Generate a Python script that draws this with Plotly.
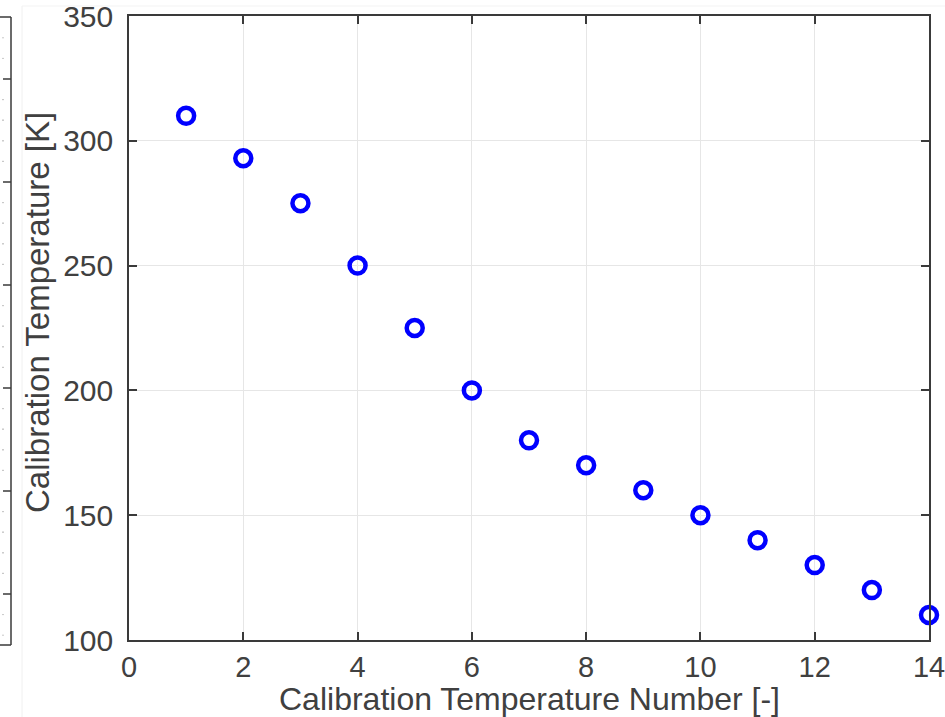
import plotly.graph_objects as go

# data
cal_number = [1, 2, 3, 4, 5, 6, 7, 8, 9, 10, 11, 12, 13, 14]
cal_temp = [310, 293, 275, 250, 225, 200, 180, 170, 160, 150, 140, 130, 120, 110]
x_ticks = [0, 2, 4, 6, 8, 10, 12, 14]
y_ticks = [100, 150, 200, 250, 300, 350]
x_title = "Calibration Temperature Number [-]"
y_title = "Calibration Temperature [K]"

# neighbouring (cropped) panel axis decoration, pixel rows
nb_major = [79, 182, 285, 388, 491, 594]

W, H = 945, 717
L, R, T, B = 129, 16, 16, 77
PW, PH = W - L - R, H - T - B


def px(x):
    return (x - L) / PW


def py(y):
    return (H - B - y) / PH


AX = "#3a3a3a"
TXT = "#404040"
FONT = "Liberation Sans, Arial, sans-serif"

fig = go.Figure()
fig.add_trace(go.Scatter(
    x=cal_number, y=cal_temp, mode="markers",
    marker=dict(symbol="circle-open", size=16, color="#0000ff",
                line=dict(width=4.5, color="#0000ff")),
    showlegend=False, cliponaxis=False,
))

shapes = []
shapes.append(dict(type="line", xref="paper", yref="paper",
                   x0=px(22), x1=px(22), y0=py(6), y1=py(717),
                   line=dict(color="#f0f0f0", width=1)))
shapes.append(dict(type="line", xref="paper", yref="paper",
                   x0=px(22), x1=px(945), y0=py(6), y1=py(6),
                   line=dict(color="#f3f3f3", width=1)))
shapes.append(dict(type="line", xref="paper", yref="paper",
                   x0=px(11), x1=px(11), y0=py(17), y1=py(645),
                   line=dict(color=AX, width=1.5)))
shapes.append(dict(type="line", xref="paper", yref="paper",
                   x0=px(0), x1=px(11), y0=py(17), y1=py(17),
                   line=dict(color=AX, width=1.5)))
shapes.append(dict(type="line", xref="paper", yref="paper",
                   x0=px(0), x1=px(11), y0=py(645), y1=py(645),
                   line=dict(color=AX, width=1.5)))
for yy in nb_major:
    shapes.append(dict(type="line", xref="paper", yref="paper",
                       x0=px(3), x1=px(11), y0=py(yy), y1=py(yy),
                       line=dict(color=AX, width=1.5)))
    for k in range(-4, 5):
        if k == 0:
            continue
        ym = yy + k * 20.6
        if 20 < ym < 642:
            shapes.append(dict(type="line", xref="paper", yref="paper",
                               x0=px(2), x1=px(4), y0=py(ym), y1=py(ym),
                               line=dict(color="#c8c8c8", width=1)))

fig.update_layout(
    width=W, height=H,
    margin=dict(l=L, r=R, t=T, b=B, autoexpand=False),
    paper_bgcolor="white", plot_bgcolor="white",
    font=dict(family=FONT, color=TXT, size=29),
    shapes=shapes,
    annotations=[
        dict(text=y_title, textangle=-90, showarrow=False,
             xref="paper", yref="paper", x=px(37), y=py(313),
             xanchor="center", yanchor="middle",
             font=dict(size=33, color=TXT, family=FONT)),
        dict(text=x_title, showarrow=False,
             xref="paper", yref="paper", x=px(529), y=py(718),
             xanchor="center", yanchor="bottom", borderpad=0,
             font=dict(size=32, color=TXT, family=FONT)),
    ],
    xaxis=dict(
        range=[0, 14], tickvals=x_ticks, ticktext=[str(v) for v in x_ticks],
        showgrid=True, gridcolor="#e6e6e6", gridwidth=1,
        showline=True, linecolor=AX, linewidth=1.5, mirror="ticks",
        ticks="inside", ticklen=8, tickwidth=1.5, tickcolor=AX,
        zeroline=False, tickfont=dict(size=29, color=TXT),
        automargin=False, ticklabeloverflow="allow", ticklabelstandoff=0,
    ),
    yaxis=dict(
        range=[100, 350], tickvals=y_ticks, ticktext=[str(v) for v in y_ticks],
        showgrid=True, gridcolor="#e6e6e6", gridwidth=1,
        showline=True, linecolor=AX, linewidth=1.5, mirror="ticks",
        ticks="inside", ticklen=8, tickwidth=1.5, tickcolor=AX,
        zeroline=False, tickfont=dict(size=30, color=TXT),
        ticklabelstandoff=8, automargin=False, ticklabeloverflow="allow",
    ),
)

fig.write_html("out.html")
